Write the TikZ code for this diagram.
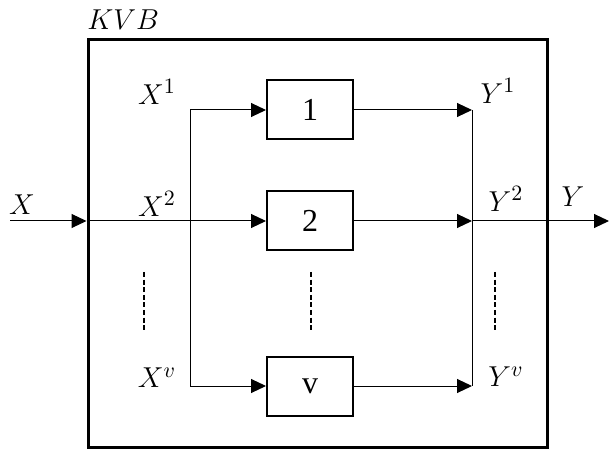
\documentclass[tikz,border=0pt]{standalone}
\usepackage{fontspec}
\setmainfont{Liberation Serif}
\usetikzlibrary{arrows.meta,calc,positioning}
\definecolor{ink}{HTML}{000000}
\tikzset{
  frame/.style={draw=ink,line width=1.5pt,minimum width=229.5pt,minimum height=203.5pt,inner sep=0pt},
  block/.style={draw=ink,line width=1pt,minimum width=43pt,minimum height=29.5pt,inner sep=0pt,font=\rmfamily\fontsize{16}{18}\selectfont},
  sig/.style={-{Triangle[length=7.5pt,width=7pt]},line width=0.5pt,draw=ink},
  wire/.style={line width=0.5pt,draw=ink},
  dots/.style={line width=1pt,draw=ink,dash pattern=on 2.5pt off 1.3pt},
  lbl/.style={font=\fontsize{15}{18}\selectfont,inner sep=0pt}
}
\begin{document}
\begin{tikzpicture}[x=0.5pt,y=0.5pt]
        \useasboundingbox (0,0) rectangle (610,450);
        \node[frame] (kvb) at (317.5,206.5) {};
        \node[lbl,anchor=west] (kvbname) at (87,430) {$KVB$};

        \node[block] (b1) at (310,340) {1};
        \node[block] (b2) at (310,229) {2};
        \node[block] (bv) at (310,64) {v};

        \coordinate (xin) at (10,229);
        \coordinate (split) at (190,229);
        \coordinate (join) at (472,229);
        \coordinate (yout) at (609,229);

        \draw[sig] (xin) -- (xin -| kvb.west);
        \draw[sig] (xin -| kvb.west) -- (b2.west);
        \draw[sig] (split |- b1.west) -- (b1.west);
        \draw[wire] (split |- b1.west) -- (split |- bv.west);
        \draw[sig] (split |- bv.west) -- (bv.west);

        \draw[sig] (b1.east) -- (join |- b1.east);
        \draw[sig] (b2.east) -- (join);
        \draw[sig] (bv.east) -- (join |- bv.east);
        \draw[wire] (join |- b1.east) -- (join |- bv.east);
        \draw[sig] (join) -- (yout);

        \node[lbl] (xlab) at (22,245) {$X$};
        \node[lbl] (x1) at (157,358) {$X^1$};
        \node[lbl] (x2) at (157,246) {$X^2$};
        \node[lbl] (xv) at (157,72) {$X^v$};
        \node[lbl] (y1) at (498,359) {$Y^1$};
        \node[lbl] (y2) at (506,251) {$Y^2$};
        \node[lbl] (yv) at (506,73) {$Y^v$};
        \node[lbl] (ylab) at (573,253) {$Y$};

        \foreach \x in {144,311,495}
          \draw[dots] (\x,178) -- (\x,120);
      \end{tikzpicture}
\end{document}
